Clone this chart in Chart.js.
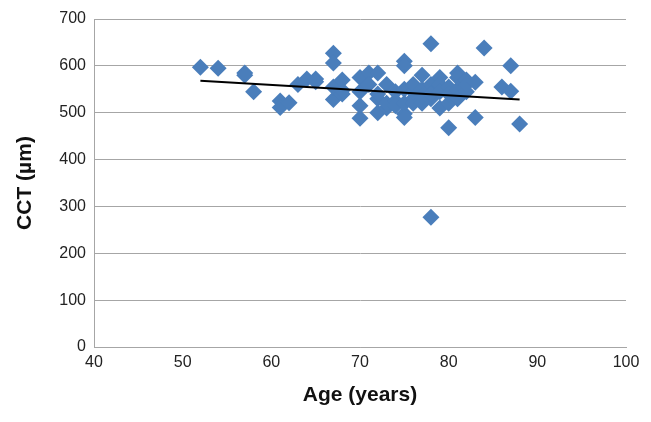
<!DOCTYPE html>
<html>
<head>
<meta charset="utf-8">
<script src="https://cdn.jsdelivr.net/npm/chart.js@4/dist/chart.umd.min.js"></script>
<style>
  html, body { margin: 0; padding: 0; background: #fff; }
  #wrap { width: 651px; height: 422px; }
</style>
</head>
<body>
<div id="wrap"><canvas id="chart1"></canvas></div>
<script>
// age (years) and CCT (µm)
let ages = [52, 54, 57, 57, 58, 61, 61, 62, 63, 64, 65, 65,
    67, 67, 67, 67, 68, 68, 68, 70, 70, 70, 70, 71, 71,
    72, 72, 72, 72, 73, 73, 73, 74, 74, 74,
    75, 75, 75, 75, 75, 75, 76, 76, 76, 76, 77, 77, 77, 77,
    78, 78, 78, 78, 78, 79, 79, 79, 79, 80, 80, 80, 80,
    81, 81, 81, 81, 82, 82, 82, 83, 83, 84, 86, 87, 87, 88];
let cct = [597, 595, 585, 580, 545, 525, 511, 521, 560, 572, 572, 566,
    627, 606, 528, 555, 540, 570, 548, 575, 515, 488, 545, 585, 560,
    585, 530, 500, 540, 560, 510, 520, 525, 545, 515,
    610, 600, 498, 520, 550, 490, 530, 520, 545, 560, 580, 520, 550, 535,
    647, 277, 560, 530, 540, 575, 560, 510, 545, 468, 520, 555, 540,
    585, 550, 530, 575, 570, 545, 560, 565, 490, 638, 555, 600, 546, 476];

// linear trend line end points
let trendX = [52, 88];
let trendY = [568, 528];

let xTicks = [40, 50, 60, 70, 80, 90, 100];
let yTicks = [0, 100, 200, 300, 400, 500, 600, 700];

const blue = '#4a7ebb';
const fontFam = '"Liberation Sans", Arial, sans-serif';

const ctx = document.getElementById('chart1').getContext('2d');
new Chart(ctx, {
    type: 'scatter',
    data: {
        datasets: [
            {
                label: 'CCT',
                data: ages.map((a, i) => ({ x: a, y: cct[i] })),
                pointStyle: 'rectRot',
                pointRadius: 8.5,
                backgroundColor: blue,
                borderColor: blue,
                borderWidth: 0,
                order: 2
            },
            {
                label: 'Linear',
                type: 'line',
                data: trendX.map((a, i) => ({ x: a, y: trendY[i] })),
                borderColor: '#000',
                borderWidth: 2,
                pointRadius: 0,
                fill: false,
                order: 1
            }
        ]
    },
    options: {
        responsive: true,
        maintainAspectRatio: false,
        animation: false,
        layout: { padding: { top: 19, right: 25, left: 9, bottom: 10 } },
        scales: {
            x: {
                type: 'linear',
                min: 40,
                max: 100,
                afterBuildTicks: s => { s.ticks = xTicks.map(v => ({ value: v })); },
                afterFit: s => { s.height = 65; },
                grid: { display: false, drawTicks: false },
                border: { display: true, color: '#a6a6a6', width: 1 },
                ticks: { color: '#222', padding: 6, font: { family: fontFam, size: 16 } },
                title: {
                    display: true,
                    text: 'Age (years)',
                    color: '#111',
                    padding: { top: 4 },
                    font: { family: fontFam, size: 21, weight: 'bold' }
                }
            },
            y: {
                min: 0,
                max: 700,
                afterBuildTicks: s => { s.ticks = yTicks.map(v => ({ value: v })); },
                afterFit: s => { s.width = 85; },
                grid: { color: '#a6a6a6', drawTicks: false },
                border: { display: true, color: '#a6a6a6', width: 1 },
                ticks: { color: '#222', padding: 8, font: { family: fontFam, size: 16 } },
                title: {
                    display: true,
                    text: 'CCT (µm)',
                    color: '#111',
                    padding: { bottom: 6 },
                    font: { family: fontFam, size: 21, weight: 'bold' }
                }
            }
        },
        plugins: {
            legend: { display: false },
            tooltip: { enabled: false }
        }
    }
});
</script>
</body>
</html>
